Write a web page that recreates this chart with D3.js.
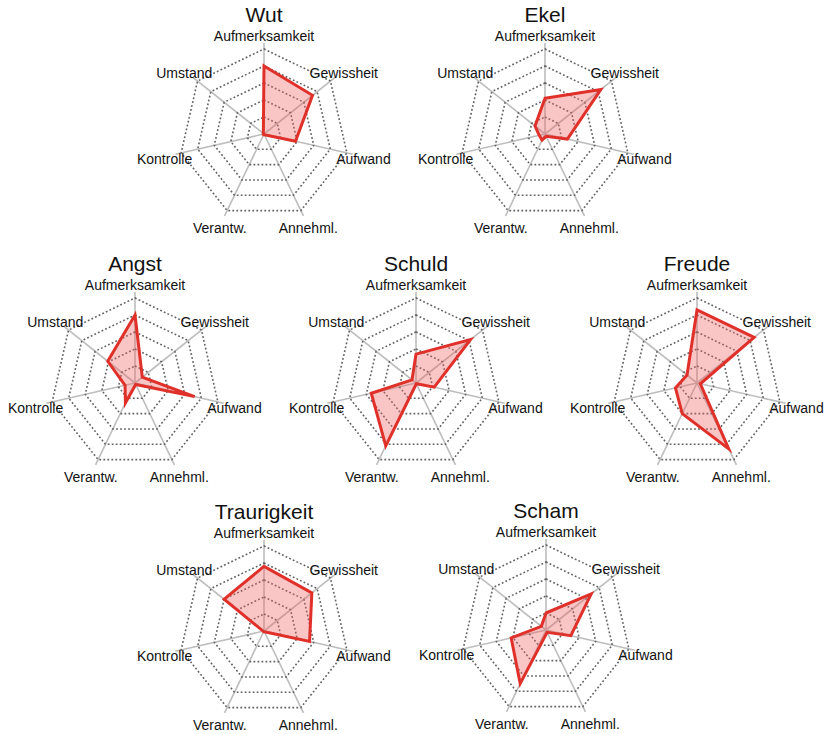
<!DOCTYPE html>
<html>
<head>
<meta charset="utf-8">
<script src="https://cdn.jsdelivr.net/npm/d3@7"></script>
<style>
  body { margin: 0; background: #fff; }
  text { font-family: "Liberation Sans", Arial, sans-serif; fill: #111; }
</style>
</head>
<body>
<svg width="827" height="734"></svg>
<script>
// axes, clockwise from the top
const axes = ["Aufmerksamkeit", "Gewissheit", "Aufwand", "Annehml.", "Verantw.", "Kontrolle", "Umstand"];
const emotions = ["Wut", "Ekel", "Angst", "Schuld", "Freude", "Traurigkeit", "Scham"];

// values on a 0..5 scale, same order as axes
const wut         = [4.0, 3.65, 1.9, 0.05, 0.05, 0.05, 0.05];
const ekel        = [2.1, 4.2, 1.35, 0.15, 0.4, 0.35, 0.75];
const angst       = [4.0, 0.55, 3.6, 0.1, 1.3, 0.6, 2.05];
const schuld      = [1.7, 4.1, 1.1, 0.05, 4.1, 2.7, 0.3];
const freude      = [4.3, 4.3, 0.2, 4.3, 2.0, 1.3, 0.75];
const traurigkeit = [3.8, 3.6, 2.75, 0.05, 0.05, 0.05, 3.0];
const scham       = [1.0, 3.4, 1.5, 0.15, 3.5, 2.1, 0.35];

const seriesByName = {
    "Wut": wut, "Ekel": ekel, "Angst": angst, "Schuld": schuld,
    "Freude": freude, "Traurigkeit": traurigkeit, "Scham": scham
};

// where each small chart sits
const layout = [
    {name: "Wut", cx: 264, cy: 134},
    {name: "Ekel", cx: 545, cy: 134},
    {name: "Angst", cx: 135, cy: 383},
    {name: "Schuld", cx: 416, cy: 383},
    {name: "Freude", cx: 697, cy: 383},
    {name: "Traurigkeit", cx: 264, cy: 631},
    {name: "Scham", cx: 546, cy: 630}
];

var svg = d3.select("svg");
var R = 85;
var levels = 5;
var r = d3.scaleLinear().domain([0, levels]).range([0, R]);
var angle = d3.scalePoint().domain(axes).range([0, 2 * Math.PI * (axes.length - 1) / axes.length]);

function pt(axis, v) {
    var a = angle(axis);
    return [r(v) * Math.sin(a), -r(v) * Math.cos(a)];
}

var line = d3.line();

layout.forEach(function(l) {
    var g = svg.append("g").attr("transform", "translate(" + l.cx + "," + l.cy + ")");

    // axis spokes
    g.selectAll(".spoke")
        .data(axes)
        .enter().append("line")
        .attr("x1", 0).attr("y1", 0)
        .attr("x2", d => pt(d, levels * 1.07)[0])
        .attr("y2", d => pt(d, levels * 1.07)[1])
        .attr("stroke", "#bdbdbd")
        .attr("stroke-width", 1.6);

    // dotted grid rings
    g.selectAll(".ring")
        .data(d3.range(1, levels + 1))
        .enter().append("path")
        .attr("d", lv => line(axes.map(a => pt(a, lv))) + "Z")
        .attr("fill", "none")
        .attr("stroke", "#636363")
        .attr("stroke-width", 1.6)
        .attr("stroke-dasharray", "1.8,2.2");

    // data polygon
    var vals = seriesByName[l.name];
    g.append("path")
        .attr("d", line(axes.map((a, i) => pt(a, vals[i]))) + "Z")
        .attr("fill", "rgba(240, 95, 95, 0.36)")
        .attr("stroke", "#e0302a")
        .attr("stroke-width", 3)
        .attr("stroke-linejoin", "miter");

    // axis labels
    g.selectAll(".lab")
        .data(axes)
        .enter().append("text")
        .attr("x", d => pt(d, levels * 1.2)[0])
        .attr("y", (d, i) => pt(d, levels * 1.2)[1] + (i === 0 ? 4 : 2.5))
        .attr("text-anchor", "middle")
        .attr("dominant-baseline", "central")
        .attr("font-size", 14)
        .text(d => d);

    g.append("text")
        .attr("x", 0)
        .attr("y", -120)
        .attr("text-anchor", "middle")
        .attr("dominant-baseline", "central")
        .attr("font-size", 21)
        .text(l.name);
});
</script>
</body>
</html>
